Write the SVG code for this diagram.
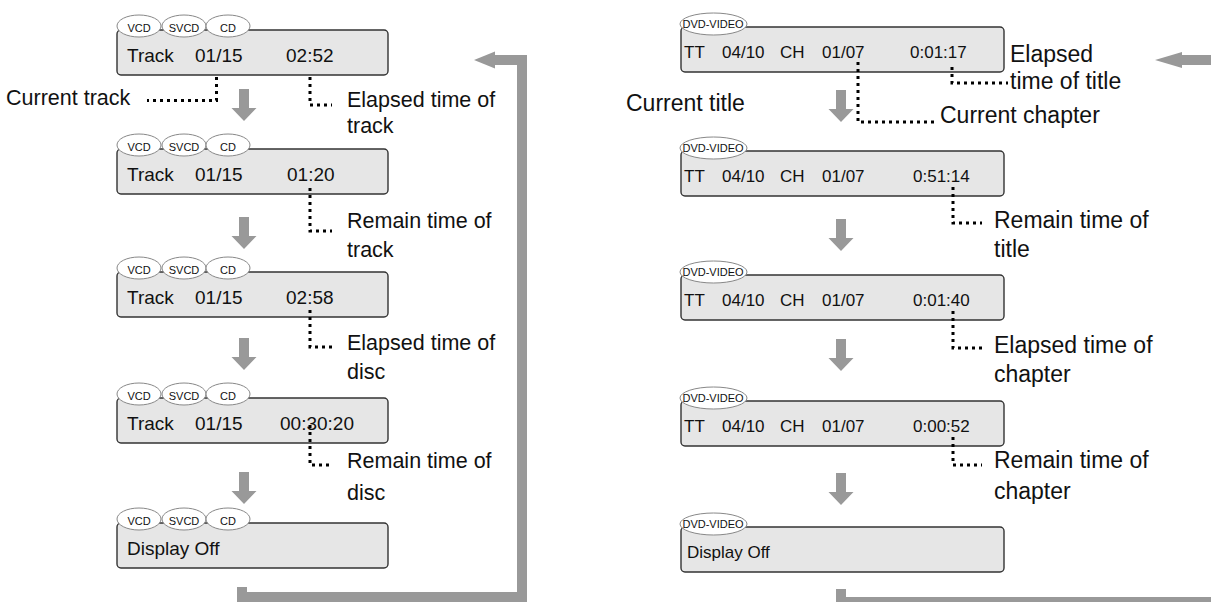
<svg xmlns="http://www.w3.org/2000/svg" width="1211" height="602" viewBox="0 0 1211 602">
<style>
.box{fill:#e6e6e6;stroke:#333;stroke-width:1.4}
.ov{fill:#fff;stroke:#888;stroke-width:1}
.ovt{font-family:"Liberation Sans",Arial,sans-serif;font-size:11px;fill:#111}
.lt{font-family:"Liberation Sans",Arial,sans-serif;font-size:19px;fill:#111}
.rt{font-family:"Liberation Sans",Arial,sans-serif;font-size:17px;fill:#111}
.lab{font-family:"Liberation Sans",Arial,sans-serif;font-size:21.5px;fill:#111}
.rlab{font-family:"Liberation Sans",Arial,sans-serif;font-size:23px;fill:#111}
.dot{fill:none;stroke:#000;stroke-width:3;stroke-dasharray:3 4}
.gl{fill:none;stroke:#999;stroke-width:10;stroke-linejoin:miter}
.gf{fill:#999}
</style>
<defs>
<path id="da" d="M-5,0 H5 V19 H12.5 L0,32 L-12.5,19 H-5 Z" fill="#999"/>
<g id="cdtags">
<ellipse class="ov" cx="139" cy="0" rx="22" ry="11"/>
<ellipse class="ov" cx="184" cy="0" rx="22" ry="11"/>
<ellipse class="ov" cx="228" cy="0" rx="22" ry="11"/>
<text class="ovt" x="139" y="6" text-anchor="middle">VCD</text>
<text class="ovt" x="184" y="6" text-anchor="middle">SVCD</text>
<text class="ovt" x="228" y="6" text-anchor="middle">CD</text>
</g>
<g id="dvdtag">
<ellipse class="ov" cx="713.5" cy="0" rx="33.5" ry="11"/>
<text class="ovt" x="713" y="4" text-anchor="middle">DVD-VIDEO</text>
</g>
</defs>

<g id="L1">
<rect class="box" x="117" y="30" width="271" height="45" rx="4"/>
<use href="#cdtags" y="26"/>
<text class="lt" x="127" y="62">Track</text><text class="lt" x="195" y="62">01/15</text><text class="lt" x="286" y="62">02:52</text>
</g>
<g id="L2">
<rect class="box" x="117" y="149" width="271" height="45" rx="4"/>
<use href="#cdtags" y="145"/>
<text class="lt" x="127" y="181">Track</text><text class="lt" x="195" y="181">01/15</text><text class="lt" x="287" y="181">01:20</text>
</g>
<g id="L3">
<rect class="box" x="117" y="272" width="271" height="45" rx="4"/>
<use href="#cdtags" y="268"/>
<text class="lt" x="127" y="304">Track</text><text class="lt" x="195" y="304">01/15</text><text class="lt" x="286" y="304">02:58</text>
</g>
<g id="L4">
<rect class="box" x="117" y="398" width="271" height="45" rx="4"/>
<use href="#cdtags" y="394"/>
<text class="lt" x="127" y="430">Track</text><text class="lt" x="195" y="430">01/15</text><text class="lt" x="280" y="430">00:30:20</text>
</g>
<g id="L5">
<rect class="box" x="117" y="523" width="271" height="45" rx="4"/>
<use href="#cdtags" y="519"/>
<text class="lt" x="127" y="555">Display Off</text>
</g>

<g id="R1">
<rect class="box" x="681" y="27" width="323" height="45" rx="4"/>
<use href="#dvdtag" y="24"/>
<text class="rt" x="684" y="58">TT</text><text class="rt" x="722" y="58">04/10</text><text class="rt" x="780" y="58">CH</text><text class="rt" x="822" y="58">01/07</text><text class="rt" x="910" y="58">0:01:17</text>
</g>
<g id="R2">
<rect class="box" x="681" y="151" width="323" height="45" rx="4"/>
<use href="#dvdtag" y="148"/>
<text class="rt" x="684" y="182">TT</text><text class="rt" x="722" y="182">04/10</text><text class="rt" x="780" y="182">CH</text><text class="rt" x="822" y="182">01/07</text><text class="rt" x="913" y="182">0:51:14</text>
</g>
<g id="R3">
<rect class="box" x="681" y="275" width="323" height="45" rx="4"/>
<use href="#dvdtag" y="272"/>
<text class="rt" x="684" y="306">TT</text><text class="rt" x="722" y="306">04/10</text><text class="rt" x="780" y="306">CH</text><text class="rt" x="822" y="306">01/07</text><text class="rt" x="913" y="306">0:01:40</text>
</g>
<g id="R4">
<rect class="box" x="681" y="401" width="323" height="45" rx="4"/>
<use href="#dvdtag" y="398"/>
<text class="rt" x="684" y="432">TT</text><text class="rt" x="722" y="432">04/10</text><text class="rt" x="780" y="432">CH</text><text class="rt" x="822" y="432">01/07</text><text class="rt" x="913" y="432">0:00:52</text>
</g>
<g id="R5">
<rect class="box" x="681" y="527" width="323" height="45" rx="4"/>
<use href="#dvdtag" y="524"/>
<text class="rt" x="687" y="558">Display Off</text>
</g>

<g id="connectors">
<use href="#da" x="244" y="89"/>
<use href="#da" x="244" y="217"/>
<use href="#da" x="244" y="338"/>
<use href="#da" x="244" y="472"/>
<use href="#da" x="841" y="90"/>
<use href="#da" x="841" y="219"/>
<use href="#da" x="841" y="339"/>
<use href="#da" x="841" y="473"/>
<path class="gl" d="M242,587 V597 H522 V60 H494"/>
<polygon class="gf" points="474,60 495,51.5 495,68.5"/>
<path class="gl" stroke-width="9" d="M841,589 V602 H1220 V60 H1180"/>
<polygon class="gf" points="1155,60 1182,52 1182,68"/>
<path class="dot" d="M216.5,77 V100.5 H147"/>
<path class="dot" d="M310,77 V105 H332"/>
<path class="dot" d="M310,188 V231 H332"/>
<path class="dot" d="M310,310 V347 H332"/>
<path class="dot" d="M310,425 V465 H332"/>
<path class="dot" d="M858,62 V122 H936"/>
<path class="dot" d="M952,67 V83 H1008"/>
<path class="dot" d="M953,187 V223 H982"/>
<path class="dot" d="M953,311 V348 H982"/>
<path class="dot" d="M953,437 V465 H982"/>
</g>

<g id="labels">
<text class="lab" x="6" y="105">Current track</text>
<text class="lab" x="347" y="107">Elapsed time of</text><text class="lab" x="347" y="133">track</text>
<text class="lab" x="347" y="228">Remain time of</text><text class="lab" x="347" y="257">track</text>
<text class="lab" x="347" y="350">Elapsed time of</text><text class="lab" x="347" y="379">disc</text>
<text class="lab" x="347" y="468">Remain time of</text><text class="lab" x="347" y="500">disc</text>
<text class="rlab" x="1010" y="62">Elapsed</text><text class="rlab" x="1010" y="89">time of title</text>
<text class="rlab" x="626" y="111">Current title</text>
<text class="rlab" x="940" y="123">Current chapter</text>
<text class="rlab" x="994" y="228">Remain time of</text><text class="rlab" x="994" y="257">title</text>
<text class="rlab" x="994" y="353">Elapsed time of</text><text class="rlab" x="994" y="382">chapter</text>
<text class="rlab" x="994" y="468">Remain time of</text><text class="rlab" x="994" y="499">chapter</text>
</g>
</svg>
